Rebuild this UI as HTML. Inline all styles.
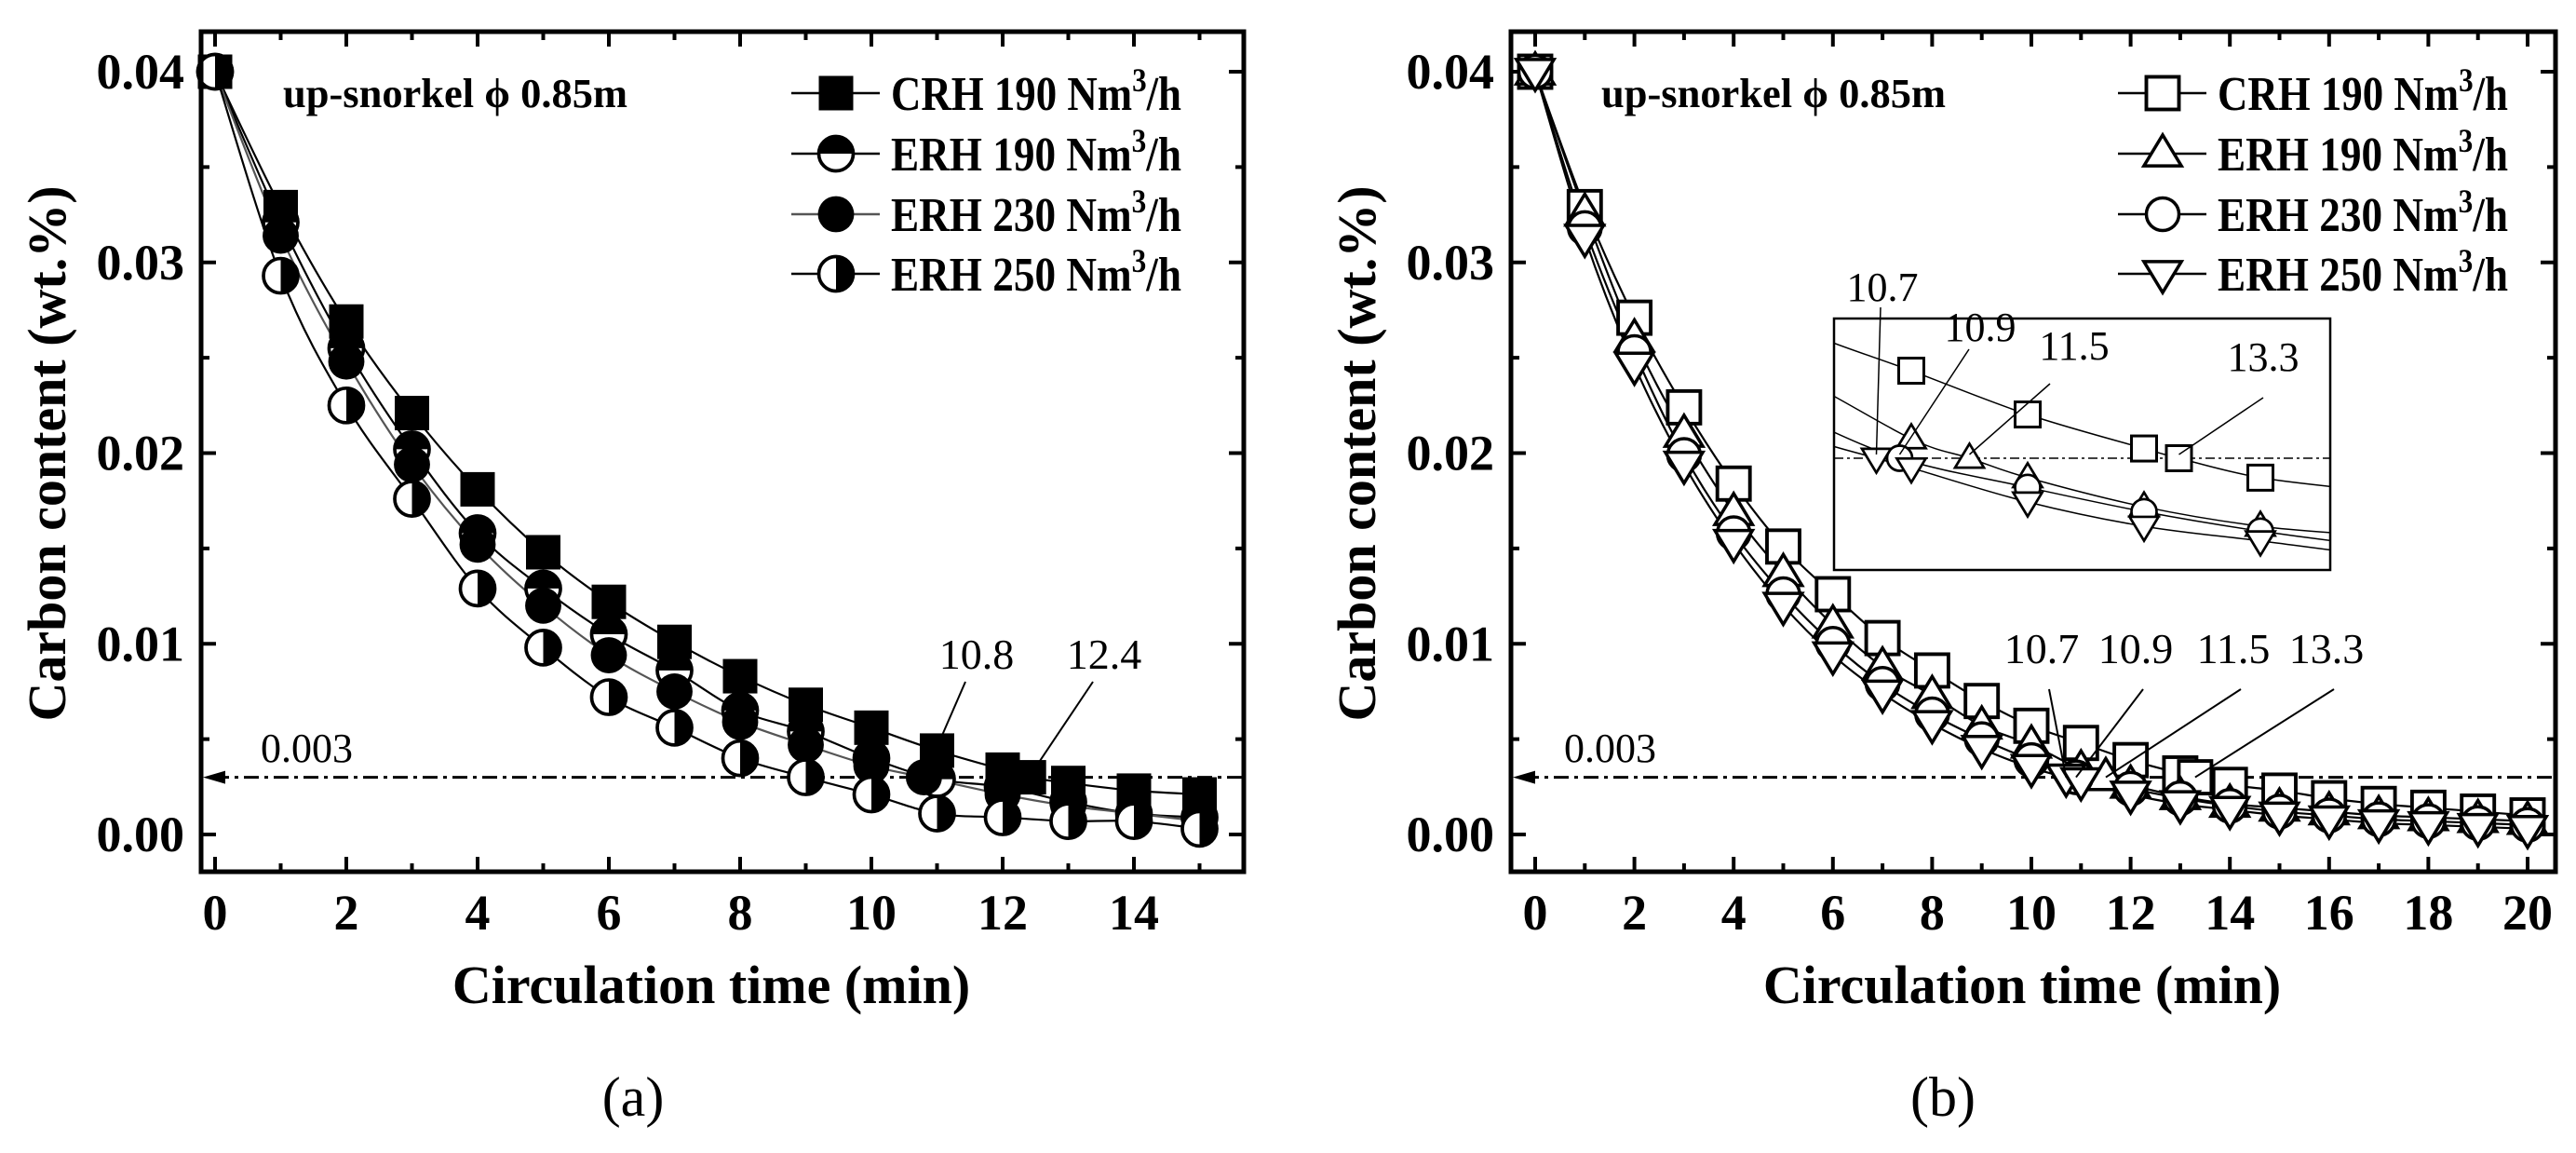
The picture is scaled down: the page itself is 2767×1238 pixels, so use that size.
<!DOCTYPE html>
<html><head><meta charset="utf-8"><style>
html,body{margin:0;padding:0;background:#fff;}
svg{display:block;font-family:"Liberation Serif",serif;}
</style></head><body>
<svg id="fig" width="2767" height="1238" viewBox="0 0 2767 1238" xmlns="http://www.w3.org/2000/svg">
<defs>
<clipPath id="insetClip"><rect x="1970" y="342" width="533" height="270"/></clipPath>
</defs>
</svg>
<script>
// ---------- data: panel (a) ----------
const aCrhT=[0,1,2,3,4,5,6,7,8,9,10,11,12,12.4,13,14,15];
const aCrhV=[.04,.0329,.0269,.0221,.0181,.0148,.0122,.0101,.0083,.0068,.0056,.0044,.0034,.003,.0027,.0023,.0021];
const aE190T=[0,1,2,3,4,5,6,7,8,9,10,11,12,13,14,15];
const aE190V=[.04,.0321,.0255,.0202,.0158,.0129,.0105,.0086,.0065,.0054,.004,.0029,.0025,.0017,.0011,.0009];
const aE230T=[0,1,2,3,4,5,6,7,8,9,10,10.8,12,13,14,15];
const aE230V=[.04,.0314,.0248,.0194,.0152,.012,.0094,.0075,.0059,.0047,.0036,.003,.0021,.0015,.0011,.0007];
const aE250T=[0,1,2,3,4,5,6,7,8,9,10,11,12,13,14,15];
const aE250V=[.04,.0293,.0225,.0176,.0129,.0098,.0072,.0056,.004,.003,.0021,.0011,.0009,.0007,.0007,.0003];
// ---------- data: panel (b) ----------
const bCrhT=[0,1,2,3,4,5,6,7,8,9,10,11,12,13,13.3,14,15,16,17,18,19,20];
const bCrhV=[.04,.0329,.0271,.0224,.0184,.0151,.0126,.0103,.0086,.007,.0057,.0048,.0039,.0032,.003,.0026,.0023,.0019,.0016,.0014,.0012,.001];
const bE190T=[0,1,2,3,4,5,6,7,8,9,10,11,11.5,12,13,14,15,16,17,18,19,20];
const bE190V=[.04,.0326,.026,.021,.0169,.0137,.011,.0088,.0073,.0057,.0047,.0034,.003,.0026,.002,.0016,.0014,.0012,.001,.0009,.0008,.0007];
const bE230T=[0,1,2,3,4,5,6,7,8,9,10,10.9,12,13,14,15,16,17,18,19,20];
const bE230V=[.04,.0318,.0253,.0199,.0158,.0126,.01,.0079,.0063,.005,.0039,.003,.0024,.0019,.0015,.0012,.001,.0008,.0007,.0006,.0005];
const bE250T=[0,1,2,3,4,5,6,7,8,9,10,10.7,11,12,13,14,15,16,17,18,19,20];
const bE250V=[.04,.0313,.0246,.0194,.0153,.012,.0094,.0074,.0058,.0045,.0035,.003,.0028,.0021,.0016,.0013,.001,.0008,.0006,.0005,.0004,.0003];
const yTicks=[0,0.01,0.02,0.03,0.04];
const yTickLabels=["0.00","0.01","0.02","0.03","0.04"];
const aXTicks=[0,2,4,6,8,10,12,14];
const bXTicks=[0,2,4,6,8,10,12,14,16,18,20];
const threshold=0.003;
const legendLabels=["CRH 190 Nm","ERH 190 Nm","ERH 230 Nm","ERH 250 Nm"];
const aAnnT=[10.8,12.4];
const bAnnT=[10.7,10.9,11.5,13.3];

const NS="http://www.w3.org/2000/svg";
const svg=document.getElementById('fig');
function el(tag,attrs,parent){const e=document.createElementNS(NS,tag);for(const k in attrs)e.setAttribute(k,attrs[k]);(parent||svg).appendChild(e);return e;}
function yv(v){return 896-v*20475;}
function smooth(pts){
  let d=`M${pts[0][0]},${pts[0][1]}`;
  for(let i=0;i<pts.length-1;i++){
    const p0=pts[Math.max(0,i-1)],p1=pts[i],p2=pts[i+1],p3=pts[Math.min(pts.length-1,i+2)];
    const c1=[p1[0]+(p2[0]-p0[0])/6,p1[1]+(p2[1]-p0[1])/6];
    const c2=[p2[0]-(p3[0]-p1[0])/6,p2[1]-(p3[1]-p1[1])/6];
    d+=` C${c1[0]},${c1[1]} ${c2[0]},${c2[1]} ${p2[0]},${p2[1]}`;
  }
  return d;
}
function marker(g,kind,x,y,s,name){
  let m;
  const r=s/2;
  if(kind==='sqFill'){m=el('rect',{x:x-r,y:y-r,width:s,height:s,fill:'#000'},g);}
  else if(kind==='sq'){m=el('rect',{x:x-r,y:y-r,width:s,height:s,fill:'#fff',stroke:'#000','stroke-width':s/9},g);}
  else if(kind==='circFill'){m=el('circle',{cx:x,cy:y,r:r*1.05,fill:'#000'},g);}
  else if(kind==='circ'){m=el('circle',{cx:x,cy:y,r:r,fill:'#fff',stroke:'#000','stroke-width':s/10},g);}
  else if(kind==='halfTop'){m=el('g',{},g);el('circle',{cx:x,cy:y,r:r,fill:'#fff',stroke:'#000','stroke-width':s/10},m);el('path',{d:`M${x-r},${y} A${r},${r} 0 0 1 ${x+r},${y} Z`,fill:'#000'},m);}
  else if(kind==='halfRight'){m=el('g',{},g);el('circle',{cx:x,cy:y,r:r,fill:'#fff',stroke:'#000','stroke-width':s/10},m);el('path',{d:`M${x},${y-r} A${r},${r} 0 0 1 ${x},${y+r} Z`,fill:'#000'},m);}
  else if(kind==='triUp'){const w=r*1.15;m=el('polygon',{points:`${x},${y-r*1.15} ${x-w},${y+r*0.75} ${x+w},${y+r*0.75}`,fill:'#fff',stroke:'#000','stroke-width':s/10,'stroke-linejoin':'miter'},g);}
  else if(kind==='triDown'){const w=r*1.15;m=el('polygon',{points:`${x},${y+r*1.15} ${x-w},${y-r*0.75} ${x+w},${y-r*0.75}`,fill:'#fff',stroke:'#000','stroke-width':s/10},g);}
  
  
  return m;
}
function text(str,x,y,size,opts,name){
  const t=el('text',Object.assign({x:x,y:y,'font-size':size,'font-weight':'bold',fill:'#000'},opts||{}));
  t.textContent=str;
  
  
  return t;
}
function legendText(str,x,y,name){
  const t=el('text',{x:x,y:y,'font-size':52,'font-weight':'bold',textLength:312,lengthAdjust:'spacingAndGlyphs'});
  
  
  t.appendChild(document.createTextNode(str));
  const sup=el('tspan',{dy:-20,'font-size':36},t);sup.textContent='3';
  const rest=el('tspan',{dy:20},t);rest.textContent='/h';
  return t;
}

function panel(cfg){
  const g=el('g',{});
  
  
  const xv=t=>cfg.x0+t*cfg.px;
  const L=cfg.left,R=cfg.right,T=34,B=936;
  for(let v=0;v<=0.0401;v+=0.005){
    const yy=yv(v);const major=Math.abs(v/0.01-Math.round(v/0.01))<1e-6;const len=major?16:9;
    el('line',{x1:L,y1:yy,x2:L+len,y2:yy,stroke:'#000','stroke-width':4},g);
    el('line',{x1:R,y1:yy,x2:R-len,y2:yy,stroke:'#000','stroke-width':4},g);
  }
  for(let t=0;t<=cfg.xmax;t++){
    const xx=xv(t);const len=t%2===0?16:9;
    el('line',{x1:xx,y1:B,x2:xx,y2:B-len,stroke:'#000','stroke-width':4},g);
    el('line',{x1:xx,y1:T,x2:xx,y2:T+len,stroke:'#000','stroke-width':4},g);
  }
  yTicks.forEach((v,i)=>text(yTickLabels[i],L-18,yv(v)+18,54,{'text-anchor':'end'},'y-tick-label'));
  cfg.xticks.forEach(t=>text(String(t),xv(t),998,54,{'text-anchor':'middle'},'x-tick-label'));
  text('Circulation time (min)',(L+R)/2-12,1077,58,{'text-anchor':'middle'},'x-axis-title');
  text('Carbon content (wt.%)',0,0,58,{'text-anchor':'middle',transform:`translate(${cfg.ytitleX},487) rotate(-90)`},'y-axis-title');
  text(cfg.letter,cfg.letterX,1198,60,{'text-anchor':'middle','font-weight':'normal'},'panel-label');
  const th=el('line',{x1:L+14,y1:yv(threshold),x2:R,y2:yv(threshold),stroke:'#000','stroke-width':3,'stroke-dasharray':'16 6 4 6'},g);
  
  el('polygon',{points:`${L+2},${yv(threshold)} ${L+26},${yv(threshold)-7} ${L+26},${yv(threshold)+7}`,fill:'#000'},g);
  text('0.003',cfg.thLabelX,818,44,{'font-weight':'normal'},'threshold-label');
  text('up-snorkel ϕ 0.85m',cfg.snX,115,44,{textLength:370,lengthAdjust:'spacingAndGlyphs'},'condition-label');
  cfg.series.forEach(s=>{
    const pts=s.t.map((t,i)=>[xv(t),yv(s.v[i])]);
    const p=el('path',{d:smooth(pts),fill:'none',stroke:s.color,'stroke-width':2.2},g);
    
  });
  cfg.series.forEach(s=>{s.t.forEach((t,i)=>marker(g,s.kind,xv(t),yv(s.v[i]),cfg.ms,s.name+'-point'));});
  const rows=[100,165,230,294];
  cfg.series.forEach((s,i)=>{
    const ln=el('line',{x1:cfg.legX-48,y1:rows[i],x2:cfg.legX+47,y2:rows[i],stroke:s.color,'stroke-width':2.5},g);
    
    marker(g,s.kind,cfg.legX,rows[i],cfg.ms,'legend-marker');
    legendText(legendLabels[i],cfg.legX+59,rows[i]+18,'legend-entry');
  });
  const fr=el('rect',{x:L,y:T,width:R-L,height:B-T,fill:'none',stroke:'#000','stroke-width':5},g);
  
  return {g,xv};
}

const pa=panel({name:'panel-a',left:216,right:1336,x0:231,px:70.5,xmax:15,xticks:aXTicks,ytitleX:70,letter:'(a)',letterX:680,thLabelX:280,snX:304,legX:898,ms:37,
  series:[{name:'crh-190',t:aCrhT,v:aCrhV,kind:'sqFill',color:'#000'},
          {name:'erh-190',t:aE190T,v:aE190V,kind:'halfTop',color:'#000'},
          {name:'erh-230',t:aE230T,v:aE230V,kind:'circFill',color:'#555'},
          {name:'erh-250',t:aE250T,v:aE250V,kind:'halfRight',color:'#000'}]});
const aLabY=[718,718];const aLabX=[1049,1186];
aAnnT.forEach((t,i)=>{
  text(String(t),aLabX[i],aLabY[i],46,{'text-anchor':'middle','font-weight':'normal'},'annotation-label');
  const l=el('line',{x1:aLabX[i]-12,y1:aLabY[i]+14,x2:pa.xv(t),y2:yv(threshold),stroke:'#000','stroke-width':2});
  
});

const pb=panel({name:'panel-b',left:1623,right:2745,x0:1649,px:53.3,xmax:20,xticks:bXTicks,ytitleX:1477,letter:'(b)',letterX:2087,thLabelX:1680,snX:1720,legX:2323,ms:35,
  series:[{name:'crh-190',t:bCrhT,v:bCrhV,kind:'sq',color:'#000'},
          {name:'erh-190',t:bE190T,v:bE190V,kind:'triUp',color:'#000'},
          {name:'erh-230',t:bE230T,v:bE230V,kind:'circ',color:'#000'},
          {name:'erh-250',t:bE250T,v:bE250V,kind:'triDown',color:'#000'}]});
const bLabX=[2193,2294,2399,2499];
bAnnT.forEach((t,i)=>{
  text(String(t),bLabX[i],712,46,{'text-anchor':'middle','font-weight':'normal'},'annotation-label');
  const l=el('line',{x1:bLabX[i]+8,y1:740,x2:pb.xv(t),y2:yv(threshold),stroke:'#000','stroke-width':2});
  
});

// ---------- inset ----------
const ix=t=>2053+(t-11)*125;
const iy=v=>492-(v-0.003)*52200;
const ig=el('g',{});

const ic=el('g',{'clip-path':'url(#insetClip)'},ig);
el('rect',{x:1970,y:342,width:533,height:270,fill:'#fff'},ic);
el('line',{x1:1970,y1:iy(threshold),x2:2503,y2:iy(threshold),stroke:'#000','stroke-width':1.5,'stroke-dasharray':'10 4 3 4'},ic);
const iSeries=[{t:bCrhT,v:bCrhV,kind:'sq',name:'crh-190'},{t:bE190T,v:bE190V,kind:'triUp',name:'erh-190'},{t:bE230T,v:bE230V,kind:'circ',name:'erh-230'},{t:bE250T,v:bE250V,kind:'triDown',name:'erh-250'}];
iSeries.forEach(s=>{
  const pts=s.t.map((t,i)=>[ix(t),iy(s.v[i])]);
  const p=el('path',{d:smooth(pts),fill:'none',stroke:'#000','stroke-width':1.5},ic);
  
});
iSeries.forEach(s=>{s.t.forEach((t,i)=>{if(t>=10.3&&t<=14.6)marker(ic,s.kind,ix(t),iy(s.v[i]),27,'inset-'+s.name+'-point');});});
const ifr=el('rect',{x:1970,y:342,width:533,height:270,fill:'none',stroke:'#000','stroke-width':2.5},ig);

const iLab=[[2022,323],[2127,366],[2228,386],[2431,398]];
const iFrom=[[2020,330],[2115,375],[2202,412],[2431,427]];
bAnnT.forEach((t,i)=>{
  text(String(t),iLab[i][0],iLab[i][1],44,{'text-anchor':'middle','font-weight':'normal'},'inset-annotation-label');
  const l=el('line',{x1:iFrom[i][0],y1:iFrom[i][1],x2:ix(t),y2:iy(threshold)-4,stroke:'#000','stroke-width':1.5},ig);
  
});
</script>
</body></html>
